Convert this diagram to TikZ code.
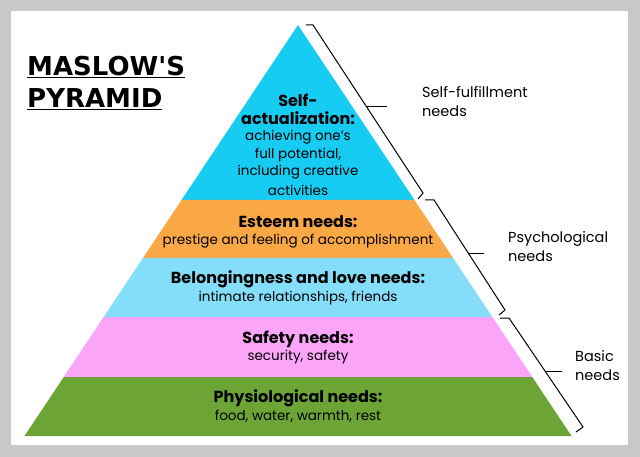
\documentclass[tikz,border=0pt]{standalone}
\usepackage{fontspec}
\setmainfont{Poppins}
\newfontfamily\titlefont{DejaVu Sans}
\definecolor{cy}{RGB}{22,204,242}
\definecolor{or}{RGB}{250,168,70}
\definecolor{lb}{RGB}{132,222,250}
\definecolor{pk}{RGB}{250,165,248}
\definecolor{gr}{RGB}{108,165,54}
\definecolor{fr}{RGB}{200,200,200}
\begin{document}
\begin{tikzpicture}[x=1pt,y=-1pt,
 bt/.style={font=\fontsize{16}{18}\selectfont\bfseries,inner sep=0},
 rt/.style={font=\fontsize{13.5}{15}\selectfont,inner sep=0},
 lab/.style={font=\fontsize{14.5}{19.5}\selectfont,align=left,anchor=north west,inner sep=0},
 br/.style={draw=black,line width=1pt}]
\fill[fr] (0,0) rectangle (640,457);
\fill[white] (11,11) rectangle (628,445);
\def\L#1{298-0.6655*(#1-25)}
\def\R#1{298+0.6655*(#1-25)}
\fill[cy] (298,25) -- ({\R{200}},200) -- ({\L{200}},200) -- cycle;
\fill[or] ({\L{200}},200) -- ({\R{200}},200) -- ({\R{258}},258) -- ({\L{258}},258) -- cycle;
\fill[lb] ({\L{258}},258) -- ({\R{258}},258) -- ({\R{317}},317) -- ({\L{317}},317) -- cycle;
\fill[pk] ({\L{317}},317) -- ({\R{317}},317) -- ({\R{377}},377) -- ({\L{377}},377) -- cycle;
\fill[gr] ({\L{377}},377) -- ({\R{377}},377) -- ({\R{436}},436) -- ({\L{436}},436) -- cycle;
% title
\node[anchor=north west,inner sep=0,align=left,font=\titlefont\fontsize{26}{32}\selectfont\bfseries] (title) at (27,56) {\underline{MASLOW'S}\\\underline{PYRAMID}};
% texts
\node[bt] (s1) at (298,100) {Self-};
\node[bt] (s2) at (298,118) {actualization:};
\node[rt] (s3) at (298,137) {achieving one’s};
\node[rt] (s4) at (298,155) {full potential,};
\node[rt] (s5) at (298,172) {including creative};
\node[rt] (s6) at (298,190) {activities};
\node[bt] (e1) at (298,222) {Esteem needs:};
\node[rt] (e2) at (298,241) {prestige and feeling of accomplishment};
\node[bt] (b1) at (298,279) {Belongingness and love needs:};
\node[rt] (b2) at (298,298) {intimate relationships, friends};
\node[bt] (a1) at (298,339) {Safety needs:};
\node[rt] (a2) at (298,357) {security, safety};
\node[bt] (p1) at (298,398) {Physiological needs:};
\node[rt] (p2) at (298,416) {food, water, warmth, rest};
% braces
\draw[br,line join=miter] (306,25) -- (313,25) -- (423,193) -- (418,199);
\draw[br] (367,107) -- (387,107);
\draw[br,line join=miter] (425,200) -- (434,200) -- (505,310) -- (499,315);
\draw[br] (469,254) -- (484,254);
\draw[br,line join=miter] (500,318) -- (509,318) -- (583,427) -- (576,432);
\draw[br] (545,371) -- (562,371);
\node[lab] (l1) at (422,86) {Self-fulfillment\\needs};
\node[lab] (l2) at (508,231) {Psychological\\needs};
\node[lab] (l3) at (575,350) {Basic\\needs};
\end{tikzpicture}
\end{document}
